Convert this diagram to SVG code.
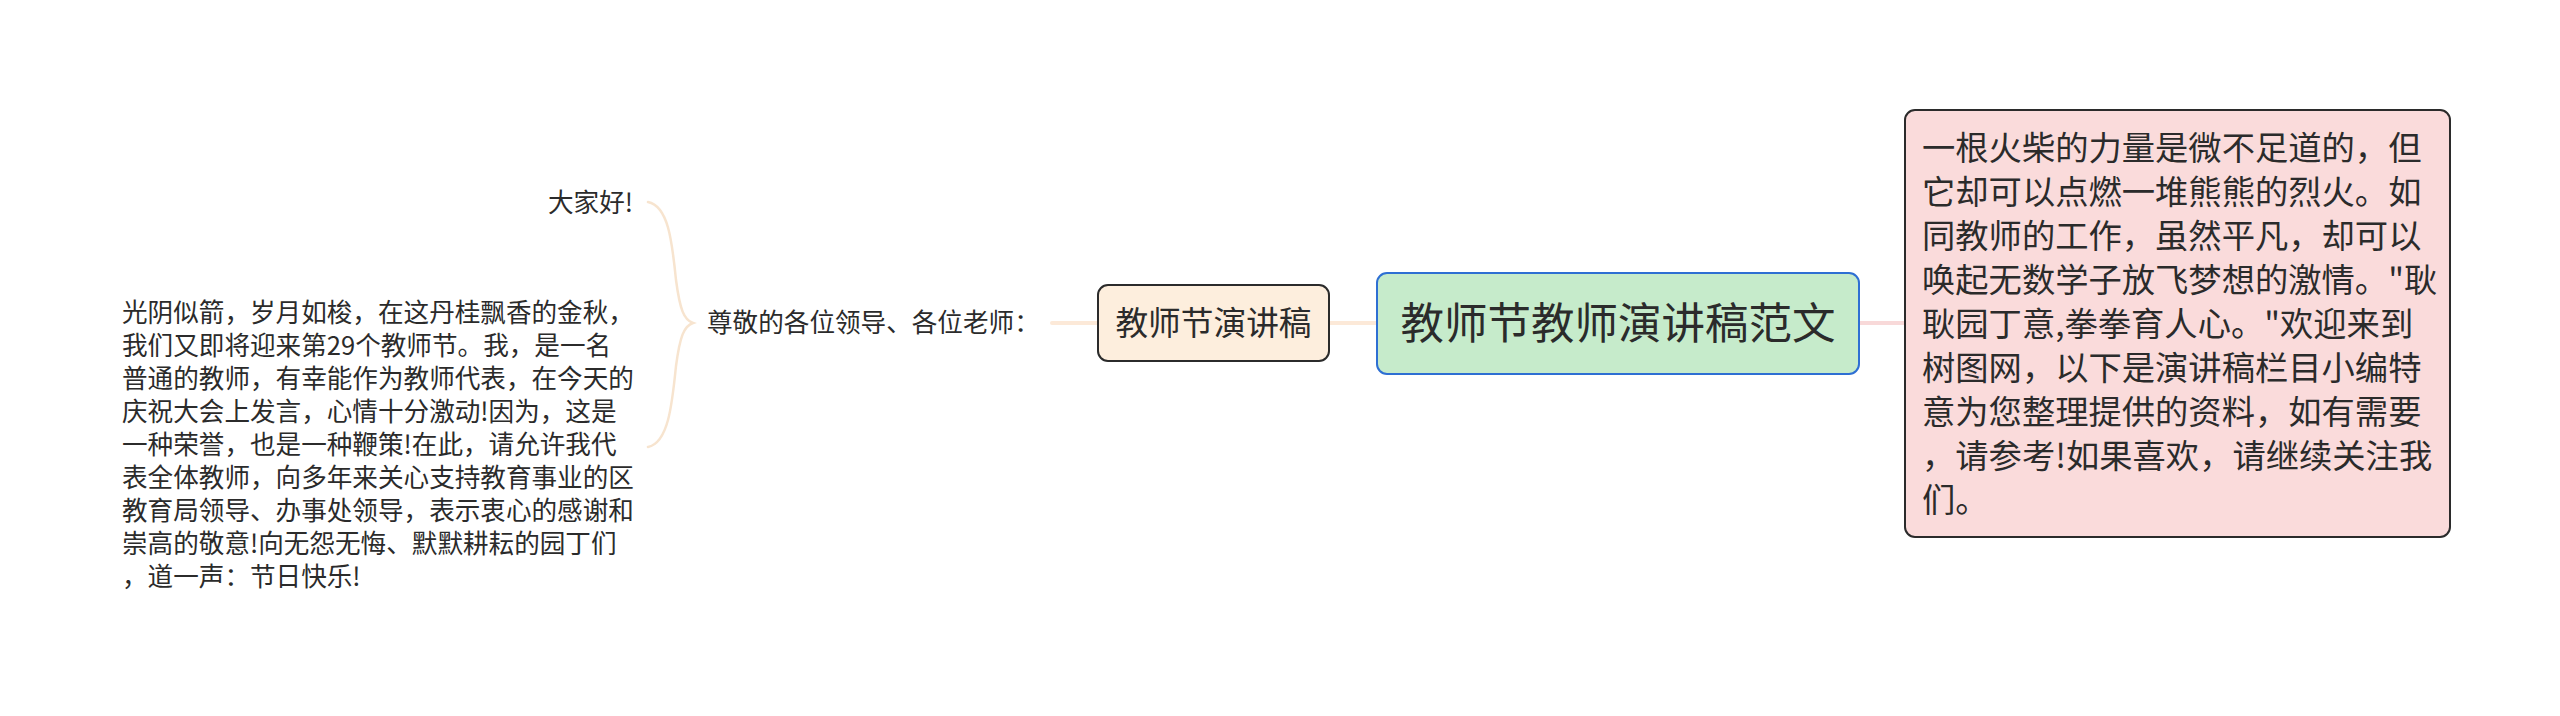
<svg xmlns="http://www.w3.org/2000/svg" width="2560" height="716" viewBox="0 0 2560 716">
<style>
text{font-family:"Noto Sans CJK SC","Noto Sans",sans-serif;fill:#2b2b2b;}
.sm{font-size:25.6px;}
.md{font-size:32.7px;}
.rt{font-size:33.3px;}
.lg{font-size:43.5px;}
.conn{fill:none;stroke-linecap:round;}
</style>
<rect width="2560" height="716" fill="#ffffff"/>
<g id="connectors">
<line class="conn" x1="1859" y1="323" x2="1905" y2="323" stroke="#f8d9d9" stroke-width="4"/>
<line class="conn" x1="1329" y1="323" x2="1377" y2="323" stroke="#fce9d8" stroke-width="4"/>
<line class="conn" x1="1052" y1="323" x2="1098" y2="323" stroke="#fce9d8" stroke-width="4"/>
<path class="conn" d="M648,202 C668,206 672,240 676,280 C680,310 684,320 693,323 C684,326 680,336 676,366 C672,406 668,443 648,447" stroke="#f7e4cf" stroke-width="2.5"/>
</g>
<g id="root">
<rect x="1377" y="273" width="482" height="101" rx="10" fill="#c6ebcb" stroke="#2e6fd3" stroke-width="2"/>
<text class="lg" x="1618" y="339" text-anchor="middle">教师节教师演讲稿范文</text>
</g>
<g id="intro">
<rect x="1905" y="110" width="545" height="427" rx="10" fill="#fadbdb" stroke="#2b2b2b" stroke-width="2"/>
<text class="rt" x="1922">
<tspan x="1922" y="160">一根火柴的力量是微不足道的，但</tspan>
<tspan x="1922" y="204">它却可以点燃一堆熊熊的烈火。如</tspan>
<tspan x="1922" y="248">同教师的工作，虽然平凡，却可以</tspan>
<tspan x="1922" y="292">唤起无数学子放飞梦想的激情。"耿</tspan>
<tspan x="1922" y="336">耿园丁意,拳拳育人心。"欢迎来到</tspan>
<tspan x="1922" y="380">树图网，以下是演讲稿栏目小编特</tspan>
<tspan x="1922" y="424">意为您整理提供的资料，如有需要</tspan>
<tspan x="1922" y="468">，请参考!如果喜欢，请继续关注我</tspan>
<tspan x="1922" y="512">们。</tspan>
</text>
</g>
<g id="speech">
<rect x="1098" y="285" width="231" height="76" rx="10" fill="#fdeedd" stroke="#2b2b2b" stroke-width="2"/>
<text class="md" x="1213.5" y="335" text-anchor="middle">教师节演讲稿</text>
</g>
<g id="greeting">
<text class="sm" x="707" y="332">尊敬的各位领导、各位老师：</text>
</g>
<g id="hello">
<text class="sm" x="633" y="212" text-anchor="end">大家好!</text>
</g>
<g id="body">
<text class="sm" x="122">
<tspan x="122" y="322">光阴似箭，岁月如梭，在这丹桂飘香的金秋，</tspan>
<tspan x="122" y="355">我们又即将迎来第29个教师节。我，是一名</tspan>
<tspan x="122" y="388">普通的教师，有幸能作为教师代表，在今天的</tspan>
<tspan x="122" y="421">庆祝大会上发言，心情十分激动!因为，这是</tspan>
<tspan x="122" y="454">一种荣誉，也是一种鞭策!在此，请允许我代</tspan>
<tspan x="122" y="487">表全体教师，向多年来关心支持教育事业的区</tspan>
<tspan x="122" y="520">教育局领导、办事处领导，表示衷心的感谢和</tspan>
<tspan x="122" y="553">崇高的敬意!向无怨无悔、默默耕耘的园丁们</tspan>
<tspan x="122" y="586">，道一声：节日快乐!</tspan>
</text>
</g>
</svg>
